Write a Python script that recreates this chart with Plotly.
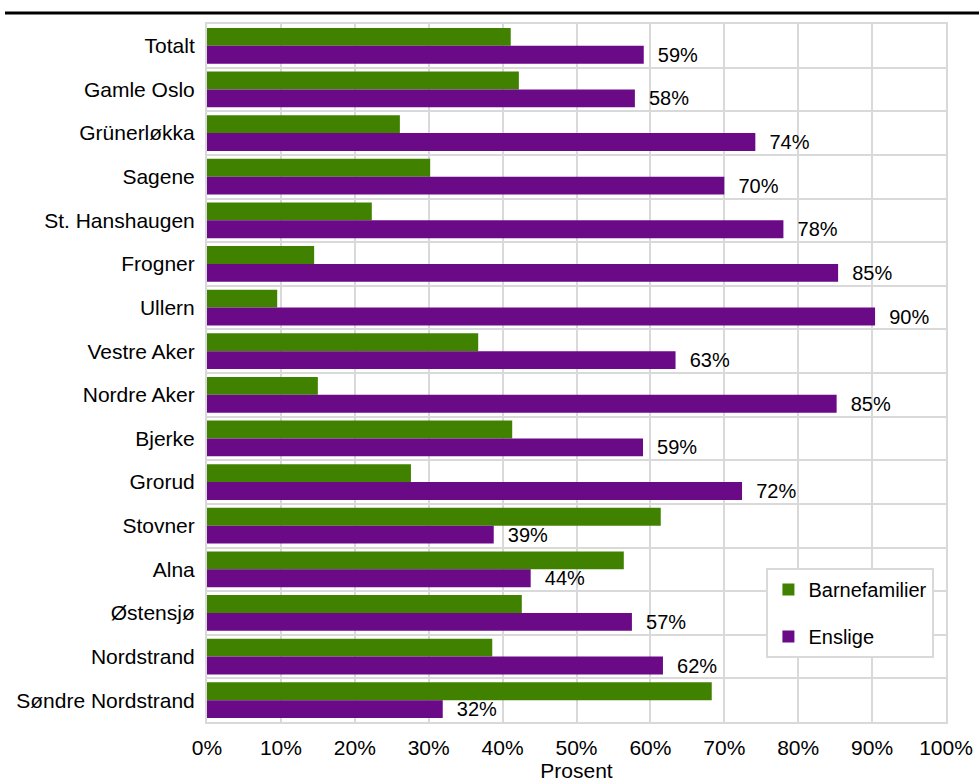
import plotly.graph_objects as go

categories = ["Totalt", "Gamle Oslo", "Grünerløkka", "Sagene", "St. Hanshaugen", "Frogner",
              "Ullern", "Vestre Aker", "Nordre Aker", "Bjerke", "Grorud", "Stovner", "Alna",
              "Østensjø", "Nordstrand", "Søndre Nordstrand"]
barnefamilier = [0.411, 0.422, 0.261, 0.302, 0.223, 0.145, 0.095, 0.367, 0.150, 0.413,
                 0.276, 0.614, 0.564, 0.426, 0.386, 0.683]
enslige = [0.591, 0.579, 0.742, 0.700, 0.780, 0.854, 0.904, 0.634, 0.852, 0.590,
           0.724, 0.388, 0.438, 0.575, 0.617, 0.319]
xticks = [0, 0.1, 0.2, 0.3, 0.4, 0.5, 0.6, 0.7, 0.8, 0.9, 1.0]

FONT = "Liberation Sans, Arial, sans-serif"
FS = 21

fig = go.Figure()
fig.add_trace(go.Bar(
    y=categories, x=barnefamilier, orientation="h", name="Barnefamilier",
    marker=dict(color="#408200", line=dict(width=0)), legendgroup="a",
))
fig.add_trace(go.Bar(
    y=categories, x=enslige, orientation="h", name="Enslige",
    marker=dict(color="#6a0a87", line=dict(width=0)), legendgroup="b",
    text=["\u00a0\u00a0" + f"{round(v*100):.0f}%" for v in enslige], textposition="outside",
    constraintext="none",
    textfont=dict(size=20, color="black", family=FONT), cliponaxis=False,
))

fig.update_layout(
    width=979, height=782,
    margin=dict(l=207, r=33, t=24, b=60, autoexpand=False),
    barmode="group", bargap=0.18, bargroupgap=0,
    plot_bgcolor="white", paper_bgcolor="white",
    font=dict(family=FONT, size=FS, color="black"),
    legend=dict(
        x=0.757, y=0.2206, xanchor="left", yanchor="top",
        bgcolor="white", bordercolor="#d9d9d9", borderwidth=2,
        font=dict(size=20), traceorder="grouped", tracegroupgap=18,
        itemwidth=30,
    ),
    xaxis=dict(
        range=[0, 1], tickvals=xticks, tickformat=".0%",
        showgrid=True, gridcolor="#d9d9d9", gridwidth=2,
        showline=True, linecolor="#d9d9d9", linewidth=2, mirror=True,
        zeroline=False, ticks="", ticklabelstandoff=6, automargin=False,
        title=dict(text="Prosent", standoff=5, font=dict(size=FS)),
        tickfont=dict(size=FS),
    ),
    yaxis=dict(
        autorange="reversed", tickson="boundaries",
        showgrid=True, gridcolor="#d9d9d9", gridwidth=2,
        showline=True, linecolor="#d9d9d9", linewidth=2, mirror=True,
        ticks="", ticklabelstandoff=6, tickfont=dict(size=FS), automargin=False,
    ),
    shapes=[dict(type="line", xref="paper", yref="paper",
                 x0=(5 - 207) / 739, x1=(979 - 207) / 739,
                 y0=1 + 11 / 698, y1=1 + 11 / 698,
                 line=dict(color="black", width=3))],
)

fig.write_html("out.html", config={"displayModeBar": False},
               post_script="document.body.style.margin='0';")
